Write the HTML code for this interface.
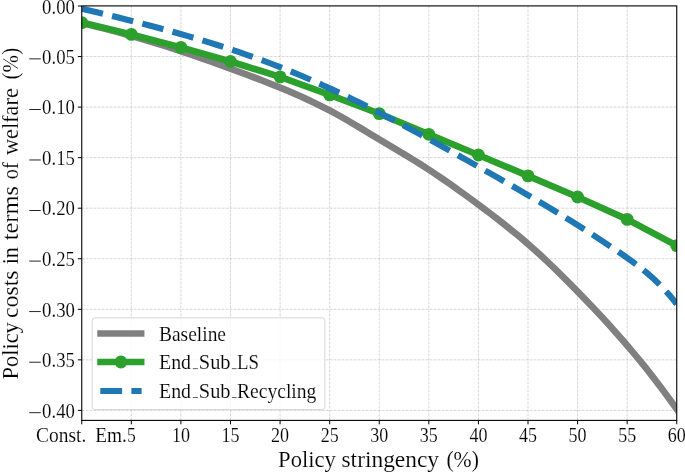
<!DOCTYPE html>
<html><head><meta charset="utf-8"><style>html,body{margin:0;padding:0;background:#fff}svg{display:block}text{font-family:"Liberation Serif",serif;fill:#000;stroke:#fff;stroke-width:0.14px}</style></head><body>
<svg width="685" height="472" viewBox="0 0 685 472">
<rect width="685" height="472" fill="#fff"/>
<defs><clipPath id="c"><rect x="81.75" y="5.9" width="595.0" height="414.5"/></clipPath></defs>
<g stroke="#b0b0b0" stroke-opacity="0.5" stroke-width="1.0" stroke-dasharray="2.8 1.2" fill="none">
<path d="M131.33,420.4 V5.9"/>
<path d="M180.92,420.4 V5.9"/>
<path d="M230.50,420.4 V5.9"/>
<path d="M280.08,420.4 V5.9"/>
<path d="M329.67,420.4 V5.9"/>
<path d="M379.25,420.4 V5.9"/>
<path d="M428.83,420.4 V5.9"/>
<path d="M478.42,420.4 V5.9"/>
<path d="M528.00,420.4 V5.9"/>
<path d="M577.58,420.4 V5.9"/>
<path d="M627.17,420.4 V5.9"/>
<path d="M81.75,56.55 H676.75"/>
<path d="M81.75,107.10 H676.75"/>
<path d="M81.75,157.65 H676.75"/>
<path d="M81.75,208.20 H676.75"/>
<path d="M81.75,258.75 H676.75"/>
<path d="M81.75,309.30 H676.75"/>
<path d="M81.75,359.85 H676.75"/>
<path d="M81.75,410.40 H676.75"/>
</g>
<g clip-path="url(#c)" fill="none">
<path d="M81.75,23.00 L89.28,24.81 L96.81,26.68 L104.34,28.59 L111.88,30.56 L119.41,32.58 L126.94,34.66 L134.47,36.80 L142.00,38.98 L149.53,41.23 L157.07,43.53 L164.60,45.89 L172.13,48.31 L179.66,50.78 L187.19,53.32 L194.72,55.90 L202.26,58.54 L209.79,61.21 L217.32,63.91 L224.85,66.64 L232.38,69.39 L239.91,72.15 L247.45,74.94 L254.98,77.76 L262.51,80.64 L270.04,83.57 L277.57,86.58 L285.10,89.67 L292.64,92.86 L300.17,96.17 L307.70,99.60 L315.23,103.18 L322.76,106.92 L330.29,110.83 L337.83,114.93 L345.36,119.18 L352.89,123.54 L360.42,128.00 L367.95,132.51 L375.48,137.04 L383.02,141.56 L390.55,146.06 L398.08,150.58 L405.61,155.13 L413.14,159.75 L420.67,164.46 L428.21,169.29 L435.74,174.26 L443.27,179.37 L450.80,184.60 L458.33,189.94 L465.86,195.37 L473.40,200.89 L480.93,206.47 L488.46,212.12 L495.99,217.87 L503.52,223.74 L511.05,229.76 L518.59,235.96 L526.12,242.36 L533.65,249.00 L541.18,255.85 L548.71,262.92 L556.24,270.16 L563.78,277.57 L571.31,285.12 L578.84,292.79 L586.37,300.57 L593.90,308.48 L601.43,316.53 L608.97,324.75 L616.50,333.15 L624.03,341.75 L631.56,350.57 L639.09,359.64 L646.62,368.96 L654.16,378.56 L661.69,388.45 L669.22,398.66 L676.75,409.20" stroke="#808080" stroke-width="6.7" stroke-linecap="square" stroke-linejoin="round"/>
<path d="M81.75,22.60 L131.33,34.40 L180.92,47.40 L230.50,61.50 L280.08,76.90 L329.67,94.90 L379.25,113.60 L428.83,134.30 L478.42,155.00 L528.00,175.90 L577.58,197.00 L627.17,219.40 L676.75,245.70" stroke="#2ca02c" stroke-width="6.7" stroke-linecap="square" stroke-linejoin="round"/>
<circle cx="81.75" cy="22.60" r="6.4" fill="#2ca02c"/>
<circle cx="131.33" cy="34.40" r="6.4" fill="#2ca02c"/>
<circle cx="180.92" cy="47.40" r="6.4" fill="#2ca02c"/>
<circle cx="230.50" cy="61.50" r="6.4" fill="#2ca02c"/>
<circle cx="280.08" cy="76.90" r="6.4" fill="#2ca02c"/>
<circle cx="329.67" cy="94.90" r="6.4" fill="#2ca02c"/>
<circle cx="379.25" cy="113.60" r="6.4" fill="#2ca02c"/>
<circle cx="428.83" cy="134.30" r="6.4" fill="#2ca02c"/>
<circle cx="478.42" cy="155.00" r="6.4" fill="#2ca02c"/>
<circle cx="528.00" cy="175.90" r="6.4" fill="#2ca02c"/>
<circle cx="577.58" cy="197.00" r="6.4" fill="#2ca02c"/>
<circle cx="627.17" cy="219.40" r="6.4" fill="#2ca02c"/>
<circle cx="676.75" cy="245.70" r="6.4" fill="#2ca02c"/>
<path d="M81.75,8.70 L89.28,10.50 L96.81,12.31 L104.34,14.13 L111.88,15.97 L119.41,17.83 L126.94,19.71 L134.47,21.62 L142.00,23.56 L149.53,25.52 L157.07,27.52 L164.60,29.55 L172.13,31.62 L179.66,33.74 L187.19,35.89 L194.72,38.10 L202.26,40.35 L209.79,42.65 L217.32,45.01 L224.85,47.42 L232.38,49.90 L239.91,52.43 L247.45,55.03 L254.98,57.70 L262.51,60.44 L270.04,63.25 L277.57,66.13 L285.10,69.10 L292.64,72.14 L300.17,75.27 L307.70,78.49 L315.23,81.78 L322.76,85.16 L330.29,88.61 L337.83,92.13 L345.36,95.73 L352.89,99.38 L360.42,103.10 L367.95,106.88 L375.48,110.72 L383.02,114.60 L390.55,118.53 L398.08,122.51 L405.61,126.53 L413.14,130.58 L420.67,134.67 L428.21,138.79 L435.74,142.93 L443.27,147.10 L450.80,151.29 L458.33,155.49 L465.86,159.71 L473.40,163.93 L480.93,168.17 L488.46,172.42 L495.99,176.69 L503.52,180.98 L511.05,185.29 L518.59,189.64 L526.12,194.02 L533.65,198.43 L541.18,202.89 L548.71,207.39 L556.24,211.93 L563.78,216.53 L571.31,221.19 L578.84,225.90 L586.37,230.68 L593.90,235.52 L601.43,240.43 L608.97,245.42 L616.50,250.49 L624.03,255.64 L631.56,260.97 L639.09,266.61 L646.62,272.68 L654.16,279.32 L661.69,286.66 L669.22,294.82 L676.75,303.95" stroke="#1f77b4" stroke-width="6.1" stroke-dasharray="21.75 9.45"/>
</g>
<rect x="81.75" y="5.9" width="595.0" height="414.5" fill="none" stroke="#000" stroke-width="1.1"/>
<g stroke="#000" stroke-width="1.0">
<path d="M81.75,420.4 v3.9"/>
<path d="M131.33,420.4 v3.9"/>
<path d="M180.92,420.4 v3.9"/>
<path d="M230.50,420.4 v3.9"/>
<path d="M280.08,420.4 v3.9"/>
<path d="M329.67,420.4 v3.9"/>
<path d="M379.25,420.4 v3.9"/>
<path d="M428.83,420.4 v3.9"/>
<path d="M478.42,420.4 v3.9"/>
<path d="M528.00,420.4 v3.9"/>
<path d="M577.58,420.4 v3.9"/>
<path d="M627.17,420.4 v3.9"/>
<path d="M676.75,420.4 v3.9"/>
<path d="M81.75,6.00 h-3.9"/>
<path d="M81.75,56.55 h-3.9"/>
<path d="M81.75,107.10 h-3.9"/>
<path d="M81.75,157.65 h-3.9"/>
<path d="M81.75,208.20 h-3.9"/>
<path d="M81.75,258.75 h-3.9"/>
<path d="M81.75,309.30 h-3.9"/>
<path d="M81.75,359.85 h-3.9"/>
<path d="M81.75,410.40 h-3.9"/>
</g>
<g id="txt" style="will-change:opacity" opacity="0.999">
<text x="42.1" y="14.20" font-size="21" textLength="32.8" lengthAdjust="spacingAndGlyphs">0.00</text>
<text x="42.1" y="63.75" font-size="21" textLength="32.8" lengthAdjust="spacingAndGlyphs">0.05</text>
<rect x="29.2" y="58.45" width="11.6" height="0.85" fill="#000"/>
<text x="42.1" y="114.30" font-size="21" textLength="32.8" lengthAdjust="spacingAndGlyphs">0.10</text>
<rect x="29.2" y="109.00" width="11.6" height="0.85" fill="#000"/>
<text x="42.1" y="164.85" font-size="21" textLength="32.8" lengthAdjust="spacingAndGlyphs">0.15</text>
<rect x="29.2" y="159.55" width="11.6" height="0.85" fill="#000"/>
<text x="42.1" y="215.40" font-size="21" textLength="32.8" lengthAdjust="spacingAndGlyphs">0.20</text>
<rect x="29.2" y="210.10" width="11.6" height="0.85" fill="#000"/>
<text x="42.1" y="265.95" font-size="21" textLength="32.8" lengthAdjust="spacingAndGlyphs">0.25</text>
<rect x="29.2" y="260.65" width="11.6" height="0.85" fill="#000"/>
<text x="42.1" y="316.50" font-size="21" textLength="32.8" lengthAdjust="spacingAndGlyphs">0.30</text>
<rect x="29.2" y="311.20" width="11.6" height="0.85" fill="#000"/>
<text x="42.1" y="367.05" font-size="21" textLength="32.8" lengthAdjust="spacingAndGlyphs">0.35</text>
<rect x="29.2" y="361.75" width="11.6" height="0.85" fill="#000"/>
<text x="42.1" y="417.60" font-size="21" textLength="32.8" lengthAdjust="spacingAndGlyphs">0.40</text>
<rect x="29.2" y="412.30" width="11.6" height="0.85" fill="#000"/>
<text x="36.1" y="441.6" font-size="21" textLength="50.2" lengthAdjust="spacingAndGlyphs">Const.</text>
<text x="95.2" y="441.6" font-size="21" textLength="31.6" lengthAdjust="spacingAndGlyphs">Em.</text>
<text x="126.93" y="441.6" font-size="21" textLength="8.8" lengthAdjust="spacingAndGlyphs">5</text>
<text x="171.92" y="441.6" font-size="21" textLength="18.0" lengthAdjust="spacingAndGlyphs">10</text>
<text x="221.50" y="441.6" font-size="21" textLength="18.0" lengthAdjust="spacingAndGlyphs">15</text>
<text x="271.08" y="441.6" font-size="21" textLength="18.0" lengthAdjust="spacingAndGlyphs">20</text>
<text x="320.67" y="441.6" font-size="21" textLength="18.0" lengthAdjust="spacingAndGlyphs">25</text>
<text x="370.25" y="441.6" font-size="21" textLength="18.0" lengthAdjust="spacingAndGlyphs">30</text>
<text x="419.83" y="441.6" font-size="21" textLength="18.0" lengthAdjust="spacingAndGlyphs">35</text>
<text x="469.42" y="441.6" font-size="21" textLength="18.0" lengthAdjust="spacingAndGlyphs">40</text>
<text x="519.00" y="441.6" font-size="21" textLength="18.0" lengthAdjust="spacingAndGlyphs">45</text>
<text x="568.58" y="441.6" font-size="21" textLength="18.0" lengthAdjust="spacingAndGlyphs">50</text>
<text x="618.17" y="441.6" font-size="21" textLength="18.0" lengthAdjust="spacingAndGlyphs">55</text>
<text x="667.75" y="441.6" font-size="21" textLength="18.0" lengthAdjust="spacingAndGlyphs">60</text>
<text x="278.1" y="466.7" font-size="23.8" textLength="57.8" lengthAdjust="spacingAndGlyphs">Policy</text>
<text x="341.5" y="466.7" font-size="23.8" textLength="97.6" lengthAdjust="spacingAndGlyphs">stringency</text>
<text x="446.4" y="466.7" font-size="23.8" textLength="32.5" lengthAdjust="spacingAndGlyphs">(%)</text>
<text transform="translate(18.2,379.5) rotate(-90)" font-size="23.8" textLength="57.3" lengthAdjust="spacingAndGlyphs">Policy</text>
<text transform="translate(18.2,318.0) rotate(-90)" font-size="23.8" textLength="47.5" lengthAdjust="spacingAndGlyphs">costs</text>
<text transform="translate(18.2,264.3) rotate(-90)" font-size="23.8" textLength="17.2" lengthAdjust="spacingAndGlyphs">in</text>
<text transform="translate(18.2,240.2) rotate(-90)" font-size="23.8" textLength="54.1" lengthAdjust="spacingAndGlyphs">terms</text>
<text transform="translate(18.2,179.2) rotate(-90)" font-size="23.8" textLength="16.9" lengthAdjust="spacingAndGlyphs">of</text>
<text transform="translate(18.2,155.1) rotate(-90)" font-size="23.8" textLength="66.9" lengthAdjust="spacingAndGlyphs">welfare</text>
<text transform="translate(18.2,79.4) rotate(-90)" font-size="23.8" textLength="31.6" lengthAdjust="spacingAndGlyphs">(%)</text>
</g>
<rect x="92.2" y="317.8" width="232.6" height="91.8" rx="2.6" fill="#fff" fill-opacity="0.8" stroke="#d6d6d6" stroke-width="1.0"/>
<path d="M100.6,333.5 H141.1" stroke="#808080" stroke-width="6.7" stroke-linecap="square"/>
<path d="M100.6,362 H141.1" stroke="#2ca02c" stroke-width="6.7" stroke-linecap="square"/><circle cx="120.9" cy="362" r="6.4" fill="#2ca02c"/>
<path d="M100.3,391 H141.6" stroke="#1f77b4" stroke-width="6.1" stroke-dasharray="21.8 9.3"/>
<g opacity="0.999">
<text x="159.0" y="340.7" font-size="21" textLength="67" lengthAdjust="spacingAndGlyphs">Baseline</text>
<text x="159.0" y="368.7" font-size="21" textLength="32.0" lengthAdjust="spacingAndGlyphs">End</text>
<rect x="192.8" y="368.4" width="5.1" height="0.7" fill="#000" fill-opacity="0.85"/>
<text x="198.8" y="368.7" font-size="21" textLength="31.8" lengthAdjust="spacingAndGlyphs">Sub</text>
<rect x="231.9" y="368.4" width="4.7" height="0.7" fill="#000" fill-opacity="0.85"/>
<text x="159.0" y="397.5" font-size="21" textLength="32.0" lengthAdjust="spacingAndGlyphs">End</text>
<rect x="192.8" y="397.2" width="5.1" height="0.7" fill="#000" fill-opacity="0.85"/>
<text x="198.8" y="397.5" font-size="21" textLength="31.8" lengthAdjust="spacingAndGlyphs">Sub</text>
<rect x="231.9" y="397.2" width="4.7" height="0.7" fill="#000" fill-opacity="0.85"/>
<text x="237.0" y="368.7" font-size="21" textLength="22.0" lengthAdjust="spacingAndGlyphs">LS</text>
<text x="237.0" y="397.5" font-size="21" textLength="79.4" lengthAdjust="spacingAndGlyphs">Recycling</text>
</g>
</svg></body></html>
